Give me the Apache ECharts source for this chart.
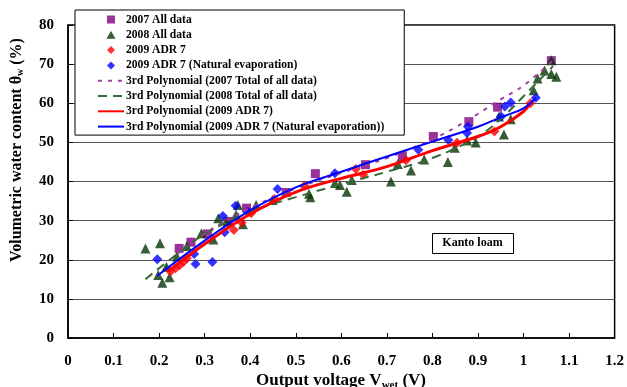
<!DOCTYPE html>
<html><head><meta charset="utf-8">
<script src="https://cdn.jsdelivr.net/npm/echarts@6/dist/echarts.min.js"></script>
<style>html,body{margin:0;padding:0;background:#fff}#c{width:627px;height:387px}</style>
</head><body><div id="c"></div>
<script>
// ---- data ----
const xTicks = ['0','0.1','0.2','0.3','0.4','0.5','0.6','0.7','0.8','0.9','1','1.1','1.2'];
const yTicks = ['0','10','20','30','40','50','60','70','80'];

const s2007 = [[0.244,22.9],[0.270,24.5],[0.306,26.6],[0.351,29.8],[0.392,33.2],[0.479,37.2],[0.543,42.0],[0.653,44.3],[0.734,46.4],[0.802,51.5],[0.880,55.3],[0.943,59.0],[1.061,70.9]];
const s2008 = [[0.170,22.9],[0.202,24.2],[0.198,16.1],[0.207,14.1],[0.223,15.5],[0.216,18.2],[0.239,20.8],[0.261,23.5],[0.293,26.8],[0.319,25.2],[0.330,30.6],[0.350,29.7],[0.369,31.5],[0.373,34.0],[0.384,29.1],[0.413,34.0],[0.449,35.3],[0.529,36.9],[0.532,36.0],[0.586,39.6],[0.597,39.1],[0.612,37.4],[0.623,40.4],[0.709,40.0],[0.724,44.5],[0.753,42.8],[0.782,45.6],[0.834,45.0],[0.849,48.6],[0.876,50.5],[0.895,50.0],[0.946,56.6],[0.957,52.0],[0.972,55.9],[1.022,63.3],[1.031,66.3],[1.046,68.4],[1.061,71.0],[1.061,67.5],[1.072,66.8]];
const s2009 = [[0.225,17.0],[0.236,17.8],[0.245,18.6],[0.254,19.5],[0.261,20.4],[0.364,27.6],[0.381,29.5],[0.402,31.9],[0.453,35.5],[0.519,38.9],[0.632,43.2],[0.648,41.7],[0.742,45.4],[0.854,49.9],[0.936,52.8],[1.015,60.0]];
const s2009n = [[0.196,20.1],[0.277,21.5],[0.280,18.9],[0.317,19.4],[0.340,31.2],[0.344,27.0],[0.368,33.8],[0.395,32.3],[0.460,38.1],[0.586,42.1],[0.769,48.1],[0.835,50.6],[0.876,52.4],[0.878,54.0],[0.951,56.6],[0.959,59.2],[0.972,60.2],[1.027,61.4]];

// trend curves
const fit2007 = [[0.24,21.5],[0.30,26.7],[0.40,33.2],[0.50,38.2],[0.60,42.2],[0.70,46.0],[0.80,50.8],[0.85,53.8],[0.90,57.3],[0.95,61.0],[1.00,64.5],[1.065,71.0]];
const fit2008 = [[0.17,15.0],[0.24,21.5],[0.30,26.5],[0.40,32.3],[0.50,36.0],[0.60,39.3],[0.70,42.5],[0.80,46.0],[0.90,51.5],[0.95,56.0],[1.00,61.8],[1.065,69.5]];
const fit2009 = [[0.22,17.0],[0.30,24.0],[0.40,31.7],[0.50,37.3],[0.60,40.8],[0.70,43.8],[0.80,47.9],[0.90,51.5],[0.95,54.0],[1.00,57.9],[1.015,60.0]];
const fit2009n = [[0.196,15.9],[0.30,24.9],[0.40,32.6],[0.50,38.5],[0.60,42.5],[0.70,46.4],[0.80,50.2],[0.90,54.0],[0.95,56.4],[1.00,58.7],[1.027,61.4]];

const names = ['2007 All data','2008 All data','2009 ADR 7','2009 ADR 7 (Natural evaporation)',
  '3rd Polynomial (2007 Total of all data)','3rd Polynomial (2008 Total of all data)',
  '3rd Polynomial (2009 ADR 7)','3rd Polynomial (2009 ADR 7 (Natural evaporation))'];
// legend icons: small marker centred in a 26x8 slot (corner moves fix the slot extent)
const legendIcons = [
  'path://M0,0M26,8M9,0L17,0L17,8L9,8Z',
  'path://M0,0M26,8M13,0L17.5,8L8.5,8Z',
  'path://M0,0M26,8M13,-0.5L17.5,4L13,8.5L8.5,4Z',
  'path://M0,0M26,8M13,-0.5L17.5,4L13,8.5L8.5,4Z'
];

const F = 'Liberation Serif';
const chart = echarts.init(document.getElementById('c'), null, {renderer:'canvas'});
chart.setOption({
  animation:false,
  backgroundColor:'#fff',
  grid:{left:68,right:6,top:25,bottom:49,show:true,borderColor:'#000',borderWidth:1.5,backgroundColor:'transparent'},
  xAxis:{type:'value',min:0,max:1.2,interval:0.1,
    axisLine:{show:true,onZero:false,lineStyle:{color:'#000',width:1.5}},
    axisTick:{show:true,inside:true,length:5,lineStyle:{color:'#000'}},
    splitLine:{show:false},
    axisLabel:{margin:16,color:'#000',fontFamily:F,fontWeight:'bold',fontSize:15,
      formatter:v=>xTicks[Math.round(v*10)]}},
  yAxis:{type:'value',min:0,max:80,interval:10,
    axisLine:{show:true,lineStyle:{color:'#000',width:1.5}},
    axisTick:{show:true,inside:true,length:5,lineStyle:{color:'#000'}},
    splitLine:{show:true,lineStyle:{color:'#555',width:1}},
    axisLabel:{margin:14,color:'#000',fontFamily:F,fontWeight:'bold',fontSize:15,
      formatter:v=>yTicks[Math.round(v/10)]}},
  legend:{orient:'vertical',left:75,top:10,backgroundColor:'#fff',borderColor:'#000',borderWidth:1,
    padding:[3,20,2,22],itemWidth:26,itemHeight:8,itemGap:2.3,align:'left',
    textStyle:{fontFamily:F,fontWeight:'bold',fontSize:11.6,lineHeight:13,color:'#000',padding:[0,0,0,-3]},
    data:names.map((n,i)=> i<4 ? {name:n,icon:legendIcons[i]} : {name:n,itemStyle:{opacity:0}})},
  graphic:[
    {type:'rect',left:432,top:233,shape:{width:81,height:20},style:{fill:'#fff',stroke:'#000',lineWidth:1},z:10},
    {type:'text',x:472.5,y:243,style:{text:'Kanto loam',fontFamily:F,fontWeight:'bold',fontSize:12,fill:'#000',align:'center',verticalAlign:'middle'},z:11},
    {type:'text',x:17,y:150,rotation:Math.PI/2,style:{text:'Volumetric water content θ{s|w} (%)',fontFamily:F,fontWeight:'bold',fontSize:16,fill:'#000',align:'center',verticalAlign:'middle',
      rich:{s:{fontFamily:F,fontWeight:'bold',fontSize:10,verticalAlign:'bottom',padding:[6,0,0,0]}}}},
    {type:'text',x:341,y:381,style:{text:'Output voltage V{s|wet} (V)',fontFamily:F,fontWeight:'bold',fontSize:17,fill:'#000',align:'center',verticalAlign:'middle',
      rich:{s:{fontFamily:F,fontWeight:'bold',fontSize:11,padding:[8,0,0,0]}}}}
  ],
  series:[
    {name:names[0],type:'scatter',data:s2007,symbol:'rect',symbolSize:9,itemStyle:{color:'#800080'},z:3},
    {name:names[1],type:'scatter',data:s2008,symbol:'triangle',symbolSize:10,itemStyle:{color:'#053505'},z:3},
    {name:names[2],type:'scatter',data:s2009,symbol:'diamond',symbolSize:10,itemStyle:{color:'#ff0000'},z:3},
    {name:names[3],type:'scatter',data:s2009n,symbol:'diamond',symbolSize:10,itemStyle:{color:'#0000ff'},z:3},
    {name:names[4],type:'line',data:fit2007,smooth:0.4,symbol:'none',lineStyle:{color:'#a040a0',width:2,type:[4,6]},itemStyle:{color:'#a040a0'},z:4},
    {name:names[5],type:'line',data:fit2008,smooth:0.4,symbol:'none',lineStyle:{color:'#3a6a3a',width:2,type:[9,6]},itemStyle:{color:'#3a6a3a'},z:4},
    {name:names[6],type:'line',data:fit2009,smooth:0.4,symbol:'none',lineStyle:{color:'#ff0000',width:3},itemStyle:{color:'#ff0000'},z:4},
    {name:names[7],type:'line',data:fit2009n,smooth:0.4,symbol:'none',lineStyle:{color:'#0000ff',width:2},itemStyle:{color:'#0000ff'},z:5}
  ]
});
</script></body></html>
